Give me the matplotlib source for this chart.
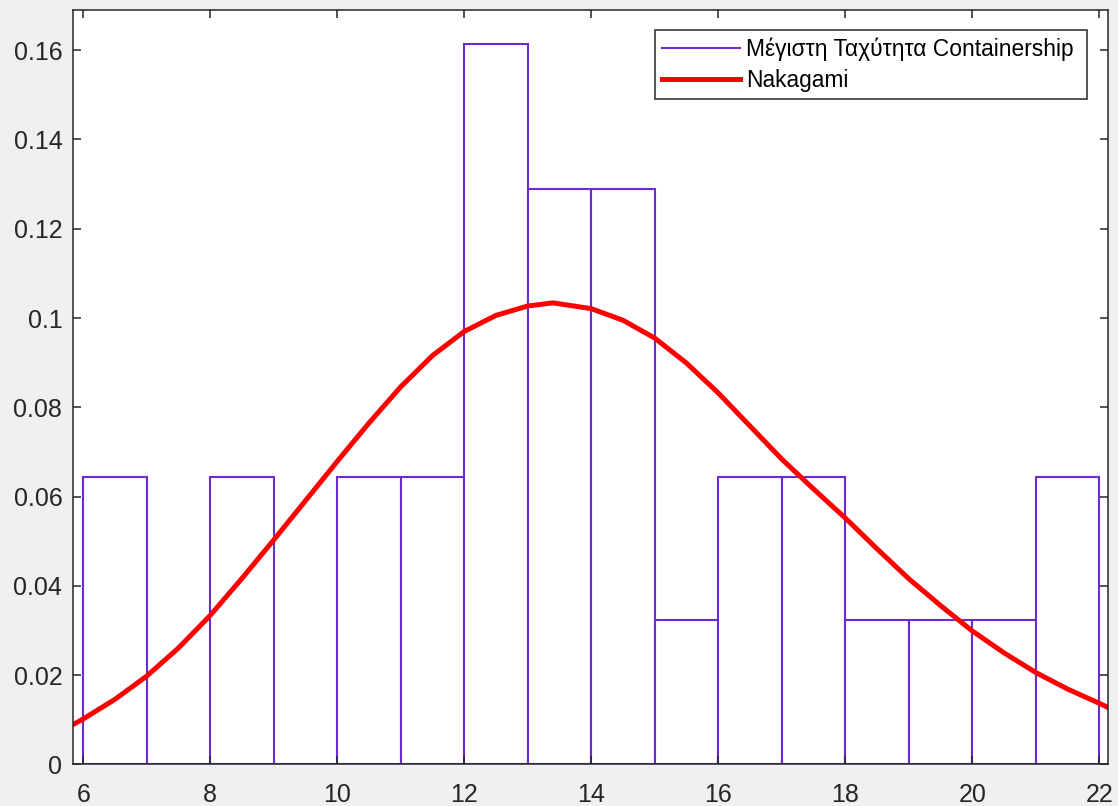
import matplotlib
matplotlib.use("Agg")
import matplotlib.pyplot as plt
from matplotlib.lines import Line2D
from matplotlib.ticker import FuncFormatter

plt.rcParams['font.family'] = ['Liberation Sans', 'DejaVu Sans']

# histogram: unit bins from 6 to 22, probability-normalised (31 samples)
bin_edges = list(range(6, 23))
bin_probs = [0.0645, 0.0, 0.0645, 0.0, 0.0645, 0.0645, 0.1613, 0.1290,
             0.1290, 0.0323, 0.0645, 0.0645, 0.0323, 0.0323, 0.0323, 0.0645]

# fitted Nakagami pdf, sampled along the data range
fit_x = [5.846, 6.0, 6.5, 7.0, 7.5, 8.0, 8.5, 9.0, 9.5, 10.0, 10.5, 11.0,
         11.5, 12.0, 12.5, 13.0, 13.4, 14.0, 14.5, 15.0, 15.5, 16.0,
         16.5, 17.0, 17.5, 18.0, 18.5, 19.0, 19.5, 20.0, 20.5, 21.0, 21.5,
         22.0, 22.132]
fit_pdf = [0.0090, 0.0102, 0.0146, 0.0198, 0.0261, 0.0334, 0.0417, 0.0503,
           0.0591, 0.0679, 0.0765, 0.0846, 0.0916, 0.0970, 0.1006, 0.1027,
           0.1034, 0.1021, 0.0995, 0.0955, 0.0899, 0.0832, 0.0758,
           0.0684, 0.0617, 0.0552, 0.0483, 0.0416, 0.0356, 0.0299, 0.0250,
           0.0206, 0.0169, 0.0137, 0.0128]

hist_color = '#6A2BD1'
axis_color = '#262626'
hist_label = 'Μέγιστη Ταχύτητα Containership '

fig = plt.figure(figsize=(11.18, 8.06), dpi=100, facecolor='#F0F0F0')
ax = fig.add_axes([0.0657, 0.0515, 0.9251, 0.9361])

ax.bar(bin_edges[:-1], bin_probs, width=1.0, align='edge', color='white',
       edgecolor=hist_color, linewidth=1.5)
ax.plot(fit_x, fit_pdf, color='red', linewidth=3.6)

ax.set_xlim(5.846, 22.132)
ax.set_ylim(0, 0.169)
ax.set_xticks(range(6, 23, 2))
ax.set_yticks([0, 0.02, 0.04, 0.06, 0.08, 0.1, 0.12, 0.14, 0.16])
ax.yaxis.set_major_formatter(FuncFormatter(lambda v, p: f'{v:g}'))

ax.tick_params(direction='in', length=6, width=1.1, colors=axis_color,
               labelsize=18, top=True, right=True)
ax.tick_params(axis='x', pad=13)
ax.tick_params(axis='y', pad=8)
for side in ax.spines.values():
    side.set_color(axis_color)
    side.set_linewidth(1.1)

handles = [Line2D([], [], color=hist_color, linewidth=1.5),
           Line2D([], [], color='red', linewidth=3.6)]
leg = ax.legend(handles, [hist_label, 'Nakagami'], loc='upper right',
                fontsize=16.4, fancybox=False, edgecolor=axis_color,
                framealpha=1, borderaxespad=0.9, handlelength=3.46,
                handletextpad=0.26, borderpad=0.3, labelspacing=0.35)
leg.get_frame().set_linewidth(1.1)

fig.savefig('out.png', dpi=100, facecolor=fig.get_facecolor())
